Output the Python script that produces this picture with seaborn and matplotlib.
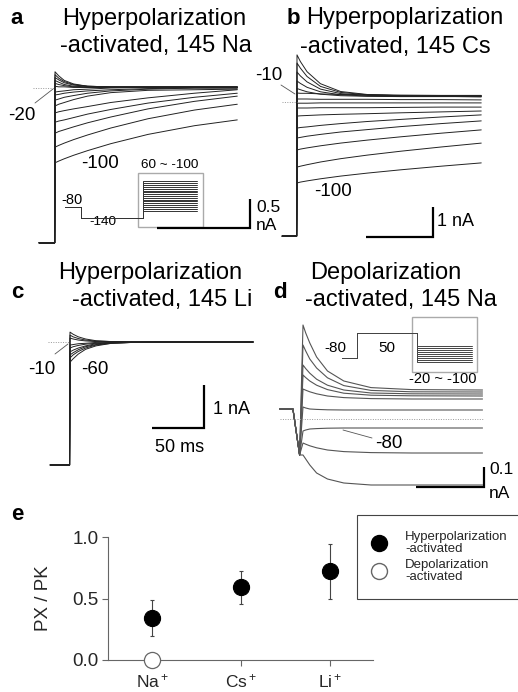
import numpy as np
import pandas as pd
import matplotlib
matplotlib.use("Agg")
import matplotlib.pyplot as plt
from matplotlib.lines import Line2D
from matplotlib.patches import Rectangle
import seaborn as sns

sns.set_style("white")
plt.rcParams['font.family'] = ['Liberation Sans', 'DejaVu Sans']
plt.rcParams['mathtext.fontset'] = 'custom'
plt.rcParams['mathtext.rm'] = 'Liberation Sans'
plt.rcParams['mathtext.it'] = 'Liberation Sans'

# ---------------- data: current traces (time in ms, current in nA) ----------------
# panel a: hyperpolarization-activated, 145 Na (steps 60 ~ -100 mV)
a_time = [0, 4, 10, 20, 35, 60, 100, 150, 196]
a_pre = -2.67
a_traces = [
    [0.28, 0.21, 0.13, 0.07, 0.03, 0.02, 0.02, 0.02, 0.02],
    [0.23, 0.17, 0.11, 0.06, 0.03, 0.02, 0.02, 0.02, 0.02],
    [0.18, 0.14, 0.09, 0.05, 0.03, 0.02, 0.02, 0.02, 0.02],
    [0.13, 0.10, 0.06, 0.03, 0.02, 0.01, 0.01, 0.01, 0.01],
    [0.08, 0.06, 0.04, 0.02, 0.01, 0.01, 0.01, 0.01, 0.01],
    [0.03, 0.02, 0.02, 0.01, 0.01, 0.01, 0.01, 0.01, 0.01],
    [-0.07, -0.06, -0.05, -0.03, -0.02, 0.00, 0.01, 0.01, 0.01],
    [-0.12, -0.11, -0.09, -0.07, -0.05, -0.03, -0.01, 0.00, 0.00],
    [-0.21, -0.19, -0.16, -0.13, -0.09, -0.05, -0.02, 0.00, 0.00],
    [-0.31, -0.28, -0.25, -0.20, -0.14, -0.08, -0.04, -0.03, -0.02],
    [-0.43, -0.41, -0.39, -0.36, -0.32, -0.25, -0.17, -0.09, -0.03],
    [-0.59, -0.57, -0.55, -0.51, -0.45, -0.37, -0.26, -0.16, -0.09],
    [-0.78, -0.75, -0.72, -0.67, -0.60, -0.50, -0.36, -0.23, -0.14],
    [-1.02, -0.99, -0.95, -0.89, -0.81, -0.69, -0.53, -0.38, -0.28],
    [-1.29, -1.26, -1.22, -1.16, -1.08, -0.96, -0.80, -0.65, -0.55],
]

# panel b: hyperpolarization-activated, 145 Cs
b_time = [0, 5, 15, 35, 65, 105, 155, 215, 275]
b_pre = -4.47
b_traces = [
    [1.57, 1.35, 1.01, 0.61, 0.35, 0.25, 0.23, 0.22, 0.22],
    [1.30, 1.13, 0.85, 0.52, 0.32, 0.24, 0.21, 0.21, 0.21],
    [1.00, 0.87, 0.67, 0.43, 0.28, 0.22, 0.20, 0.20, 0.20],
    [0.70, 0.62, 0.49, 0.34, 0.24, 0.20, 0.19, 0.19, 0.19],
    [0.45, 0.41, 0.34, 0.26, 0.21, 0.19, 0.18, 0.18, 0.18],
    [0.30, 0.29, 0.29, 0.27, 0.25, 0.24, 0.21, 0.19, 0.17],
    [0.10, 0.10, 0.10, 0.09, 0.09, 0.09, 0.08, 0.08, 0.07],
    [-0.04, -0.04, -0.04, -0.03, -0.03, -0.03, -0.03, -0.03, -0.03],
    [-0.20, -0.20, -0.20, -0.19, -0.19, -0.19, -0.18, -0.17, -0.17],
    [-0.47, -0.46, -0.45, -0.43, -0.41, -0.39, -0.36, -0.33, -0.30],
    [-0.87, -0.85, -0.83, -0.78, -0.72, -0.65, -0.58, -0.50, -0.43],
    [-1.20, -1.18, -1.14, -1.08, -1.00, -0.92, -0.82, -0.72, -0.63],
    [-1.60, -1.57, -1.53, -1.46, -1.37, -1.27, -1.16, -1.04, -0.93],
    [-2.17, -2.14, -2.09, -2.00, -1.89, -1.77, -1.64, -1.50, -1.37],
    [-2.70, -2.67, -2.63, -2.56, -2.47, -2.37, -2.26, -2.14, -2.03],
]

# panel c: hyperpolarization-activated, 145 Li
c_time = [0, 3, 8, 15, 25, 40, 60, 100, 176]
c_pre = -2.86
c_traces = [
    [0.23, 0.18, 0.12, 0.07, 0.03, 0.01, 0.00, 0.00, 0.00],
    [0.16, 0.12, 0.08, 0.045, 0.02, 0.01, 0.00, 0.00, 0.00],
    [0.09, 0.07, 0.045, 0.025, 0.01, 0.005, 0.00, 0.00, 0.00],
    [-0.07, -0.06, -0.04, -0.03, -0.01, -0.005, 0.00, 0.00, 0.00],
    [-0.14, -0.11, -0.08, -0.05, -0.03, -0.01, 0.00, 0.00, 0.00],
    [-0.23, -0.19, -0.14, -0.09, -0.04, -0.02, -0.01, 0.00, 0.00],
    [-0.30, -0.25, -0.18, -0.11, -0.06, -0.02, -0.01, 0.00, 0.00],
    [-0.37, -0.30, -0.22, -0.14, -0.07, -0.03, -0.01, 0.00, 0.00],
    [-0.47, -0.39, -0.28, -0.17, -0.09, -0.03, -0.01, 0.00, 0.00],
]

# panel d: depolarization-activated, 145 Na (tail steps -20 ~ -100 mV)
d_time = [0, 2, 5, 10, 18, 30, 50, 80, 132]
d_pre_time = [-17, -7.4, -2.5]
d_pre = [0.050, 0.050, -0.18]
d_traces = [
    [0.47, 0.43, 0.38, 0.31, 0.24, 0.19, 0.157, 0.147, 0.145],
    [0.37, 0.34, 0.30, 0.255, 0.206, 0.167, 0.143, 0.136, 0.135],
    [0.27, 0.252, 0.229, 0.199, 0.169, 0.145, 0.130, 0.126, 0.125],
    [0.22, 0.207, 0.190, 0.169, 0.147, 0.129, 0.119, 0.116, 0.115],
    [0.15, 0.144, 0.136, 0.126, 0.115, 0.107, 0.102, 0.100, 0.100],
    [0.06, 0.055, 0.050, 0.048, 0.046, 0.045, 0.045, 0.045, 0.045],
    [-0.06, -0.055, -0.050, -0.048, -0.046, -0.045, -0.045, -0.045, -0.045],
    [-0.12, -0.126, -0.134, -0.144, -0.155, -0.163, -0.168, -0.170, -0.170],
    [-0.18, -0.20, -0.23, -0.27, -0.30, -0.32, -0.33, -0.33, -0.33],
]

# voltage protocols (mV)
a_hold, a_prepulse = -80, -140
a_steps = list(range(60, -101, -10))
d_hold, d_prepulse = -80, 50
d_steps = list(range(-20, -101, -10))

# panel e: permeability ratios
ions = ['Na$^+$', 'Cs$^+$', 'Li$^+$']
hyper_ratio = [0.34, 0.59, 0.72]
hyper_err = [0.145, 0.135, 0.225]
depol_ions = ['Na$^+$']
depol_ratio = [0.0]

# ---------------- figure ----------------
W, H = 518, 692
fig = plt.figure(figsize=(W / 100, H / 100), dpi=100)


def px_axes(x0, y0, sx, sy):
    """full-figure transparent axes: data (u, v) -> pixel (x0 + u*sx, y0 - v*sy)"""
    ax = fig.add_axes([0, 0, 1, 1])
    ax.set_xlim(-x0 / sx, (W - x0) / sx)
    ax.set_ylim((y0 - H) / sy, y0 / sy)
    ax.set_autoscale_on(False)
    ax.axis('off')
    ax.patch.set_alpha(0)
    return ax


def trace_frame(time, traces, pre_time, pre_vals):
    rows = []
    for k, tr in enumerate(traces):
        for t, v in zip(pre_time, pre_vals):
            rows.append((k, t, v))
        for t, v in zip(time, tr):
            rows.append((k, t, v))
    return pd.DataFrame(rows, columns=['trace', 't', 'i'])


def draw_traces(ax, df, color, lw):
    sns.lineplot(data=df, x='t', y='i', units='trace', estimator=None, sort=False,
                 color=color, lw=lw, legend=False, ax=ax)
    ax.axis('off')


def scalebar(ax, tc, ic, tlen, ilen, lw=1.6):
    ax.plot([tc - tlen, tc, tc], [ic, ic, ic + ilen], color='black', lw=lw,
            solid_joinstyle='miter', solid_capstyle='butt')


ov = px_axes(0, 0, 1, -1)  # pixel overlay for annotations


def T(x, y, s, size, ha='left', va='center', weight='normal'):
    ov.text(x, y, s, fontsize=size, ha=ha, va=va, fontweight=weight, color='black')


def pointer(x1, y1, x2, y2):
    ov.plot([x1, x2], [y1, y2], color='#555555', lw=0.6)


# panel a
axa = px_axes(55, 88, 0.93, 58)
draw_traces(axa, trace_frame(a_time, a_traces, [-17, -0.4], [a_pre, a_pre]), '#222222', 0.7)
axa.plot([-24, 0], [0, 0], color='#999999', lw=0.7, ls=(0, (1, 1.5)))
scalebar(axa, 209.7, -2.414, 100, 0.5)

# panel b
axb = px_axes(297, 102, 0.67, 30)
draw_traces(axb, trace_frame(b_time, b_traces, [-22, -0.6], [b_pre, b_pre]), '#222222', 0.7)
axb.plot([-23, 0], [0, 0], color='#999999', lw=0.7, ls=(0, (1, 1.5)))
scalebar(axb, 203, -4.5, 100, 1.0)

# panel c
axc = px_axes(70, 342, 1.04, 43)
draw_traces(axc, trace_frame(c_time, c_traces, [-19, -0.4], [c_pre, c_pre]), '#222222', 0.7)
axc.plot([-21, 0], [0, 0], color='#999999', lw=0.7, ls=(0, (1, 1.5)))
scalebar(axc, 128.8, -2.0, 50, 1.0)

# panel d
axd = px_axes(303, 419, 1.36, 200)
draw_traces(axd, trace_frame(d_time, d_traces, d_pre_time, d_pre), '#555555', 0.8)
axd.plot([-17, 133], [0, 0], color='#999999', lw=0.7, ls=(0, (1, 1.5)))
scalebar(axd, 133, -0.34, 50, 0.1)

# protocols
pa = px_axes(65, 192.4, 1.0, 0.182)
for v in a_steps:
    pa.plot([0, 16, 16, 78, 78, 132], [a_hold, a_hold, a_prepulse, a_prepulse, v, v],
            color='#333333', lw=0.7)
ov.add_patch(Rectangle((138, 173), 65, 54, fill=False, ec='#aaaaaa', lw=1.0))

pd_ = px_axes(342, 342.6, 1.0, 0.192)
for v in d_steps:
    pd_.plot([0, 15, 15, 75, 75, 130], [d_hold, d_hold, d_prepulse, d_prepulse, v, v],
             color='#444444', lw=0.7)
ov.add_patch(Rectangle((412, 317), 65, 55, fill=False, ec='#aaaaaa', lw=1.0))

# titles and labels
T(17, 19, 'a', 16, ha='center', weight='bold')
T(62, 19, 'Hyperpolarization', 17)
T(60, 46, '-activated, 145 Na', 17)
T(293, 18, 'b', 16, ha='center', weight='bold')
T(306, 18, 'Hyperpoplarization', 17)
T(300, 47, '-activated, 145 Cs', 17)
T(17, 293, 'c', 16, ha='center', weight='bold')
T(58, 273, 'Hyperpolarization', 17)
T(72, 300, '-activated, 145 Li', 17)
T(280, 293, 'd', 16, ha='center', weight='bold')
T(310, 273, 'Depolarization', 17)
T(305, 300, '-activated, 145 Na', 17)

# panel a annotations
T(22, 116, '-20', 13.5, ha='center')
pointer(35, 103, 53, 89)
T(100, 163, '-100', 13.5, ha='center')
T(170, 165, '60 ~ -100', 9.7, ha='center')
T(72, 200, '-80', 10.5, ha='center')
T(103, 222, '-140', 9.7, ha='center')
T(256, 208, '0.5', 12.5)
T(256, 226, 'nA', 12.5)

# panel b annotations
T(282, 76, '-10', 13.5, ha='right')
pointer(281, 85, 295, 94)
T(333, 192, '-100', 13.5, ha='center')
T(437, 222, '1 nA', 13)

# panel c annotations
T(42, 370, '-10', 13.5, ha='center')
pointer(55, 354, 68, 344)
T(95, 370, '-60', 13.5, ha='center')
T(213, 410, '1 nA', 13)
T(180, 447, '50 ms', 13, ha='center')

# panel d annotations
T(335, 348, '-80', 11, ha='center')
T(387, 348, '50', 11, ha='center')
T(443, 379, '-20 ~ -100', 10.5, ha='center')
pointer(343, 430, 372, 438)
T(375, 443, '-80', 13.5)
T(489, 469, '0.1', 12.5)
T(489, 494, 'nA', 12.5)

# panel e
T(17, 515, 'e', 16, ha='center', weight='bold')
axe = fig.add_axes([108 / W, 1 - 660 / H, (373 - 108) / W, (660 - 537) / H])
hyper_df = pd.DataFrame({'ion': ions, 'ratio': hyper_ratio})
depol_df = pd.DataFrame({'ion': depol_ions, 'ratio': depol_ratio})
axe.errorbar(ions, hyper_ratio, yerr=hyper_err, fmt='none', ecolor='#444444',
             elinewidth=0.8, capsize=1.5, capthick=0.8, zorder=2)
sns.scatterplot(data=hyper_df, x='ion', y='ratio', color='black', edgecolor='black',
                s=135, linewidth=0.8, ax=axe, zorder=3, clip_on=False, legend=False)
sns.scatterplot(data=depol_df, x='ion', y='ratio', color='white', edgecolor='#666666',
                s=135, linewidth=0.9, ax=axe, zorder=3, clip_on=False, legend=False)
axe.set_xlim(-0.494, 2.483)
axe.set_ylim(0, 1.0)
axe.set_yticks([0, 0.5, 1.0])
axe.set_yticklabels(['0.0', '0.5', '1.0'])
axe.set_xlabel('')
axe.set_ylabel('PX / PK', fontsize=13.5)
axe.yaxis.set_label_coords(-0.211, 0.5)
for side in ['top', 'right']:
    axe.spines[side].set_visible(False)
for side in ['left', 'bottom']:
    axe.spines[side].set_color('#666666')
    axe.spines[side].set_linewidth(0.8)
axe.tick_params(axis='y', labelsize=13.5, length=4, width=0.8, color='#666666',
                direction='out', left=True, pad=3)
axe.tick_params(axis='x', labelsize=12.5, length=4, width=0.8, color='#666666',
                direction='out', bottom=True, pad=5)
axe.patch.set_alpha(0)

handles = [
    Line2D([], [], marker='o', ls='none', markersize=11.5, markerfacecolor='black',
           markeredgecolor='black'),
    Line2D([], [], marker='o', ls='none', markersize=11.5, markerfacecolor='white',
           markeredgecolor='#666666'),
]
leg = fig.legend(handles, ['Hyperpolarization\n-activated', 'Depolarization\n-activated'],
                 loc='upper left', bbox_to_anchor=(357 / W, 1 - 515 / H), fontsize=9.5,
                 frameon=True, fancybox=False, framealpha=1, edgecolor='#444444',
                 borderpad=1.2, handlelength=1.0, handletextpad=1.45, labelspacing=0.35,
                 borderaxespad=0)
leg.get_frame().set_linewidth(0.8)
for t in leg.get_texts():
    t.set_linespacing(1.0)

fig.savefig('out.png', dpi=100)
